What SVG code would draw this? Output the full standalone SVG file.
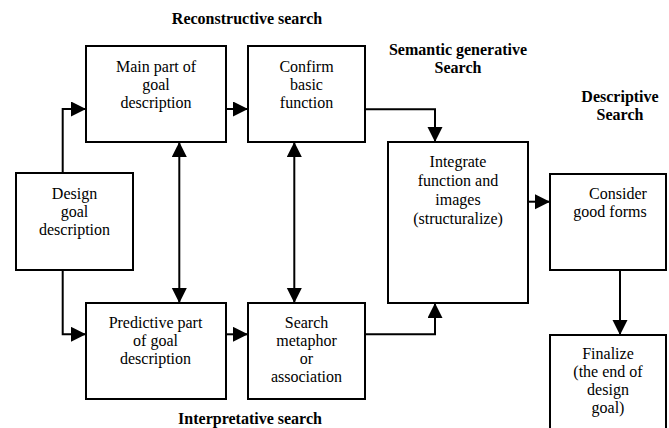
<svg xmlns="http://www.w3.org/2000/svg" width="669" height="428" viewBox="0 0 669 428">
<style>
.box{fill:#fff;stroke:#000;stroke-width:2}
text{font-family:"Liberation Serif",Tinos,"Times New Roman","DejaVu Serif",serif;font-size:16px;text-anchor:middle;fill:#000;font-weight:400;font-style:normal}
text.b{font-weight:700}
.c{fill:none;stroke:#000;stroke-width:2}
</style>
<defs>
<marker id="ah" markerUnits="userSpaceOnUse" markerWidth="16" markerHeight="16" refX="15" refY="7.5" orient="auto-start-reverse">
<path d="M0,0 L15,7.5 L0,15 z" fill="#000"/>
</marker>
</defs>
<rect width="669" height="428" fill="#fff"/>
<g id="labels">
<text class="b" x="247" y="24">Reconstructive search</text>
<text class="b" x="458" y="55">Semantic generative</text>
<text class="b" x="458" y="73">Search</text>
<text class="b" x="620" y="102">Descriptive</text>
<text class="b" x="620" y="120">Search</text>
<text class="b" x="250" y="424">Interpretative search</text>
</g>
<g id="connectors">
<path class="c" d="M62.7,173 V109 H86" marker-end="url(#ah)"/>
<path class="c" d="M62.7,270 V334.3 H86" marker-end="url(#ah)"/>
<path class="c" d="M226,109 H248" marker-end="url(#ah)"/>
<path class="c" d="M179.3,142 V303" marker-start="url(#ah)" marker-end="url(#ah)"/>
<path class="c" d="M294.3,142 V303" marker-start="url(#ah)" marker-end="url(#ah)"/>
<path class="c" d="M226,334.3 H248" marker-end="url(#ah)"/>
<path class="c" d="M365,109.3 H435 V142" marker-end="url(#ah)"/>
<path class="c" d="M365,334.3 H435 V303" marker-end="url(#ah)"/>
<path class="c" d="M528,201.7 H550" marker-end="url(#ah)"/>
<path class="c" d="M620,270 V335" marker-end="url(#ah)"/>
</g>
<g id="main">
<rect class="box" x="86" y="46" width="140" height="96"/>
<text x="156" y="72">Main part of</text>
<text x="156" y="90">goal</text>
<text x="156" y="108">description</text>
</g>
<g id="confirm">
<rect class="box" x="248" y="46" width="117" height="96"/>
<text x="306.5" y="72">Confirm</text>
<text x="306.5" y="90">basic</text>
<text x="306.5" y="108">function</text>
</g>
<g id="design">
<rect class="box" x="16" y="173" width="117" height="97"/>
<text x="74.5" y="199">Design</text>
<text x="74.5" y="217">goal</text>
<text x="74.5" y="235">description</text>
</g>
<g id="predictive">
<rect class="box" x="86" y="303" width="140" height="96"/>
<text x="155.5" y="328">Predictive part</text>
<text x="155.5" y="346">of goal</text>
<text x="155.5" y="364">description</text>
</g>
<g id="search">
<rect class="box" x="248" y="303" width="117" height="96"/>
<text x="306.5" y="328">Search</text>
<text x="306.5" y="346">metaphor</text>
<text x="306.5" y="364">or</text>
<text x="306.5" y="382">association</text>
</g>
<g id="integrate">
<rect class="box" x="388" y="142" width="140" height="161"/>
<text x="458" y="167">Integrate</text>
<text x="458" y="186">function and</text>
<text x="458" y="205">images</text>
<text x="458" y="224">(structuralize)</text>
</g>
<g id="consider">
<rect class="box" x="550" y="174" width="116" height="96"/>
<text x="618" y="199">Consider</text>
<text x="610" y="217">good forms</text>
</g>
<g id="finalize">
<rect class="box" x="550" y="335" width="116" height="110"/>
<text x="608" y="359">Finalize</text>
<text x="608" y="377">(the end of</text>
<text x="608" y="395">design</text>
<text x="608" y="413">goal)</text>
</g>
</svg>
